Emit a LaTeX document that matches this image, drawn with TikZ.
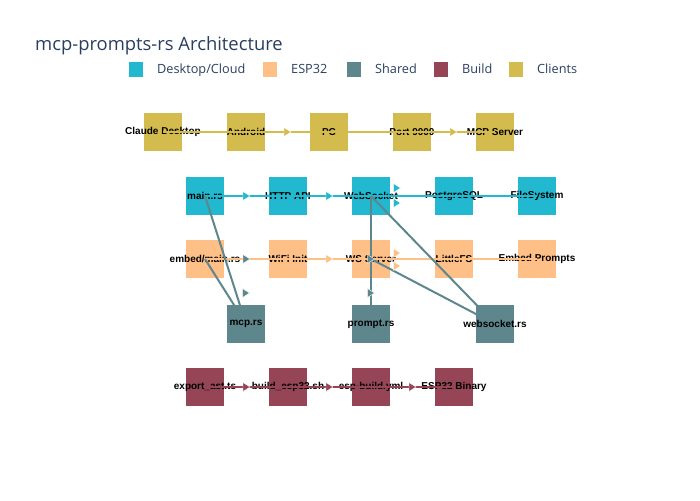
\documentclass[tikz,border=0pt]{standalone}
\usepackage{fontspec}
\usetikzlibrary{calc}
\newfontfamily\plotfont{Open Sans}
\newfontfamily\boxfont{Liberation Sans}
\definecolor{cloudblue}{RGB}{34,184,207}
\definecolor{esppeach}{RGB}{255,192,135}
\definecolor{sharedteal}{RGB}{94,135,141}
\definecolor{buildred}{RGB}{149,69,86}
\definecolor{clientgold}{RGB}{212,187,78}
\definecolor{titleblue}{RGB}{42,63,95}
\pgfdeclarelayer{back}
\pgfdeclarelayer{front}
\pgfsetlayers{back,main,front}
% small triangle marker
\newcommand\flowtip[2]{%
  \filldraw[fill=#1,draw=white,line width=0.4pt,shift={#2}]
    (-3.5,-4.5) -- (3.5,0) -- (-3.5,4.5) -- cycle;}

\begin{document}
\begin{tikzpicture}[x=1pt,y=-1pt,node distance=83pt,
                    box/.style={rectangle,minimum size=38pt,inner sep=0pt},
                    every label/.style={font=\boxfont\bfseries\fontsize{10}{12}\selectfont,inner sep=0pt},
                    client node/.style={box,fill=clientgold},
                    cloud node/.style={box,fill=cloudblue},
                    esp node/.style={box,fill=esppeach},
                    shared node/.style={box,fill=sharedteal},
                    build node/.style={box,fill=buildred},
                    link/.style={line width=2pt}]
  \useasboundingbox (0,0) rectangle (700,500);

  \node[anchor=base west,inner sep=0pt,text=titleblue,font=\plotfont\fontsize{18.4}{22}\selectfont]
    (title) at (35,51) {mcp-prompts-rs Architecture};
  \foreach \col/\sx/\txt/\nm in {cloudblue/129/{Desktop/Cloud}/cloud,esppeach/263/ESP32/esp,
      sharedteal/347/Shared/shared,buildred/434/Build/build,clientgold/509/Clients/client}{
    \fill[\col] (\sx,62) rectangle ++(14,15);
    \node[anchor=base west,inner sep=0pt,text=titleblue,font=\plotfont\fontsize{12.7}{15}\selectfont]
      (lg\nm) at (\sx+28,74) {\txt};
  }

  \begin{pgfonlayer}{back}
    \node[client node,label=center:Claude Desktop] (cd) at (163,132) {};
    \node[client node,label=center:Android] (and) [right of=cd] {};
    \node[client node,label=center:PC] (pc) [right of=and] {};
    \node[client node,label=center:Port 9000] (port) [right of=pc] {};
    \node[client node,label=center:MCP Server] (mcps) [right of=port] {};

    \node[cloud node,label=center:main.rs] (main) at (205,196) {};
    \node[cloud node,label=center:HTTP API] (http) [right of=main] {};
    \node[cloud node,label=center:WebSocket] (websock) [right of=http] {};
    \node[cloud node,label=center:PostgreSQL] (pg) [right of=websock] {};
    \node[cloud node,label=center:FileSystem] (fs) [right of=pg] {};

    \node[esp node,label=center:embed/main.rs] (embed) at (205,259) {};
    \node[esp node,label=center:WiFi Init] (wifi) [right of=embed] {};
    \node[esp node,label=center:WS Server] (wss) [right of=wifi] {};
    \node[esp node,label=center:LittleFS] (lfs) [right of=wss] {};
    \node[esp node,label=center:Embed Prompts] (eprompts) [right of=lfs] {};

    \node[build node,label=center:export\_ast.ts] (exp) at (205,387) {};
    \node[build node,label=center:build\_esp32.sh] (bsh) [right of=exp] {};
    \node[build node,label=center:esp-build.yml] (yml) [right of=bsh] {};
    \node[build node,label=center:ESP32 Binary] (bin) [right of=yml] {};
  \end{pgfonlayer}

  \begin{pgfonlayer}{front}
    \node[shared node,label=center:mcp.rs] (mcp) at (246,324) {};
    \node[shared node,label=center:prompt.rs,node distance=125pt] (prompt) [right of=mcp] {};
    \node[shared node,label=center:websocket.rs,node distance=124pt] (wsrs) [right of=prompt] {};
  \end{pgfonlayer}

  \path[link]
    (cd.center) edge [draw=clientgold] (and.center)
    (and.center) edge [draw=clientgold] (pc.center)
    (pc.center) edge [draw=clientgold] (port.center)
    (port.center) edge [draw=clientgold] (mcps.center)
    (main.center) edge [draw=cloudblue] (http.center)
    (http.center) edge [draw=cloudblue] (websock.center)
    (websock.center) edge [draw=cloudblue] (pg.center)
    (pg.center) edge [draw=cloudblue] (fs.center)
    (embed.center) edge [draw=esppeach] (wifi.center)
    (wifi.center) edge [draw=esppeach] (wss.center)
    (wss.center) edge [draw=esppeach] (lfs.center)
    (lfs.center) edge [draw=esppeach] (eprompts.center)
    (exp.center) edge [draw=buildred] (bsh.center)
    (bsh.center) edge [draw=buildred] (yml.center)
    (yml.center) edge [draw=buildred] (bin.center);
  \path[link,draw=sharedteal]
    (main.center) edge (mcp.center)
    (embed.center) edge (mcp.center)
    (websock.center) edge (prompt.center)
    (websock.center) edge (wsrs.center)
    (wss.center) edge (wsrs.center);

  \flowtip{clientgold}{($(and)!.5!(pc)$)}
  \flowtip{clientgold}{($(port)!.5!(mcps)$)}
  \flowtip{cloudblue}{($(main)!.5!(http)$)}
  \flowtip{cloudblue}{($(http)!.5!(websock)$)}
  \flowtip{cloudblue}{($(websock)+(26,-8)$)}
  \flowtip{cloudblue}{($(websock)+(26,7)$)}
  \flowtip{esppeach}{($(wifi)!.5!(wss)$)}
  \flowtip{esppeach}{($(wss)+(26,-6)$)}
  \flowtip{esppeach}{($(wss)+(26,7)$)}
  \flowtip{sharedteal}{($(embed)!.5!(wifi)$)}
  \flowtip{sharedteal}{(wss)}
  \flowtip{sharedteal}{($(mcp)+(0,-31)$)}
  \flowtip{sharedteal}{($(prompt)+(0,-31)$)}
  \flowtip{buildred}{($(exp)!.5!(bsh)$)}
  \flowtip{buildred}{($(bsh)!.5!(yml)$)}
  \flowtip{buildred}{($(yml)!.5!(bin)$)}
\end{tikzpicture}
\end{document}
